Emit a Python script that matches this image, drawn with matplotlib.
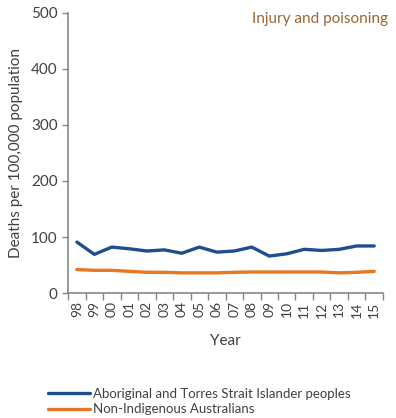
import numpy as np
import matplotlib
matplotlib.use('Agg')
import matplotlib.pyplot as plt

plt.rcParams['font.family'] = ['Lato', 'DejaVu Sans']

years = ['98', '99', '00', '01', '02', '03', '04', '05', '06',
         '07', '08', '09', '10', '11', '12', '13', '14', '15']
indigenous = [91, 69, 82, 79, 75, 77, 71, 82, 73, 75, 82, 66, 70, 78, 76, 78, 84, 84]
non_indigenous = [42, 40.5, 40.5, 38.7, 37, 37, 36, 36, 36, 37, 37.5, 37.5, 37.5, 37.5, 37.5, 36, 37, 38.7]

blue = '#1F4E8C'
orange = '#E87722'
grey = '#868686'
text_col = '#404040'

fig = plt.figure(figsize=(3.96, 4.18), dpi=100)
ax = fig.add_axes([0.172, 0.299, 0.795, 0.670])

x = np.arange(len(years))
ax.plot(x, indigenous, color=blue, lw=2.4, solid_capstyle='round',
        label='Aboriginal and Torres Strait Islander peoples')
ax.plot(x, non_indigenous, color=orange, lw=2.4, solid_capstyle='round',
        label='Non-Indigenous Australians')

ax.set_xlim(-0.5, len(years) - 0.5)
ax.set_ylim(0, 500)
ax.set_yticks([0, 100, 200, 300, 400, 500])
ax.set_xticks(x)
ax.set_xticklabels(years, rotation=90, fontsize=10, color=text_col)
ax.set_xticks(np.arange(-0.5, len(years)), minor=True)
ax.tick_params(axis='x', which='major', length=0, pad=6)
ax.tick_params(axis='x', which='minor', length=5, color=grey, width=1)
ax.tick_params(axis='y', length=4, color=grey, width=1, labelsize=11, labelcolor=text_col)

for s in ['top', 'right']:
    ax.spines[s].set_visible(False)
for s in ['left', 'bottom']:
    ax.spines[s].set_color(grey)
    ax.spines[s].set_linewidth(1.2)

ax.set_ylabel('Deaths per 100,000 population', fontsize=11, color=text_col, labelpad=6)
ax.set_xlabel('Year', fontsize=11, color=text_col, labelpad=12)

fig.text(0.98, 0.955, 'Injury and poisoning', ha='right', va='center',
         fontsize=11, color='#996633')

fig.legend(loc='lower left', bbox_to_anchor=(0.09, -0.022), frameon=False,
           fontsize=9.5, handlelength=3.2, handletextpad=0.25, labelspacing=0.25,
           labelcolor=text_col)

fig.savefig('out.png', dpi=100)
